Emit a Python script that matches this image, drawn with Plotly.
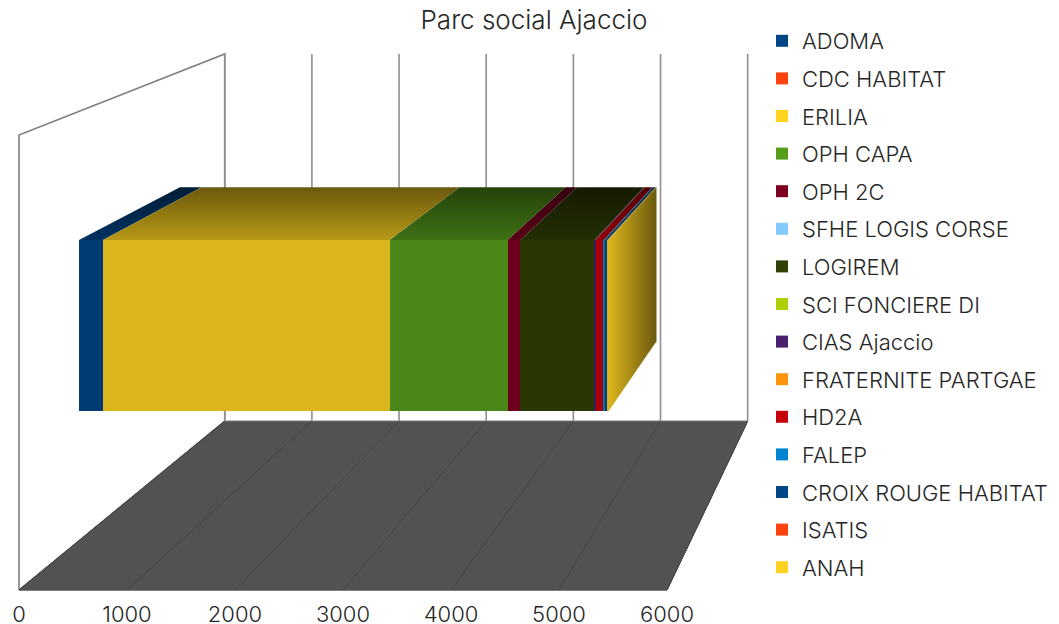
import plotly.graph_objects as go

TITLE = "Parc social Ajaccio"
categories = ["ADOMA", "CDC HABITAT", "ERILIA", "OPH CAPA", "OPH 2C", "SFHE LOGIS CORSE", "LOGIREM",
              "SCI FONCIERE DI", "CIAS Ajaccio", "FRATERNITE PARTGAE", "HD2A", "FALEP",
              "CROIX ROUGE HABITAT", "ISATIS", "ANAH"]
values = [235, 0, 2814, 1157, 125, 0, 728, 0, 10, 0, 81, 10, 25, 0, 12]
colors = ["#004586", "#ff420e", "#ffd320", "#579d1c", "#7e0021", "#83caff", "#314004", "#aecf00",
          "#4b1f6f", "#ff950e", "#c5000b", "#0084d1", "#004586", "#ff420e", "#ffd320"]
tick_values = [0, 1000, 2000, 3000, 4000, 5000, 6000]

W, H = 1059, 624
FONT = "Inter"
TXT = "#262626"
VPX, VPY = 1085.0, -285.0
X0, PX_PER_UNIT, BASE_Y = 19.0, 0.108, 590.0
WALL_H = 455.0
BACK = 0.807            # depth scale of the back wall
BAR_NEAR, BAR_FAR = 0.9437, 0.849
BAR_LOW, BAR_HIGH = 137.5, 318.7


def project(v, h, s):
    return (VPX + (X0 + v * PX_PER_UNIT - VPX) * s,
            VPY + (BASE_Y - h - VPY) * s)


def poly(points):
    pts = [project(*p) for p in points] + [project(*points[0])]
    return [p[0] for p in pts], [p[1] for p in pts]


def shade(hex_color, k):
    r, g, b = (int(hex_color[i:i + 2], 16) for i in (1, 3, 5))
    return f"rgb({r * k:.0f},{g * k:.0f},{b * k:.0f})"


fig = go.Figure()
AX = dict(mode="lines", hoverinfo="skip", showlegend=False)
vmax = tick_values[-1]

# left wall
x, y = poly([(0, 0, 1), (0, WALL_H, 1), (0, WALL_H, BACK), (0, 0, BACK)])
fig.add_trace(go.Scatter(x=x, y=y, line=dict(color="#7f7f7f", width=1.6), **AX))
# floor
x, y = poly([(0, 0, 1), (vmax, 0, 1), (vmax, 0, BACK), (0, 0, BACK)])
fig.add_trace(go.Scatter(x=x, y=y, fill="toself", fillcolor="#525252", line=dict(color="#525252", width=1), **AX))
for t in tick_values:
    x, y = poly([(t, 0, 1), (t, 0, BACK)])
    fig.add_trace(go.Scatter(x=x, y=y, line=dict(color="#484848", width=1), **AX))
    x, y = poly([(t, 0, BACK), (t, WALL_H, BACK)])
    fig.add_trace(go.Scatter(x=x, y=y, line=dict(color="#8f8f8f", width=1.6), **AX))

# top faces and end face of the stack
start = 0
for v, c in zip(values, colors):
    if v > 0:
        x, y = poly([(start, BAR_HIGH, BAR_NEAR), (start + v, BAR_HIGH, BAR_NEAR),
                     (start + v, BAR_HIGH, BAR_FAR), (start, BAR_HIGH, BAR_FAR)])
        fig.add_trace(go.Scatter(x=x, y=y, fill="toself", line=dict(width=0),
                                 fillgradient=dict(type="vertical",
                                                   colorscale=[[0, shade(c, 0.72)], [1, shade(c, 0.42)]]),
                                 **AX))
    start += v
x, y = poly([(start, BAR_LOW, BAR_NEAR), (start, BAR_HIGH, BAR_NEAR),
             (start, BAR_HIGH, BAR_FAR), (start, BAR_LOW, BAR_FAR)])
fig.add_trace(go.Scatter(x=x, y=y, fill="toself", line=dict(width=0),
                         fillgradient=dict(type="horizontal",
                                           colorscale=[[0, shade(colors[-1], 0.86)], [1, shade(colors[-1], 0.42)]]),
                         **AX))

# axis carrying the value labels
fig.add_trace(go.Scatter(x=[0, vmax], y=[1, 1], xaxis="x2", yaxis="y2", line=dict(color="#525252", width=1), **AX))

# front faces
for name, v, c in zip(categories, values, colors):
    fig.add_trace(go.Bar(y=[TITLE], x=[v], orientation="h", xaxis="x3", yaxis="y3",
                         marker=dict(color=shade(c, 0.86), line=dict(width=0)),
                         showlegend=False, name=name))
# legend swatches
for name, c in zip(categories, colors):
    fig.add_trace(go.Bar(y=[TITLE], x=[0], orientation="h", xaxis="x3", yaxis="y3",
                         marker=dict(color=c, line=dict(width=0)), name=name, legendgroup=name))

near0 = project(0, 0, BAR_NEAR)[0]
near1 = project(vmax, 0, BAR_NEAR)[0]
y_hi = project(0, BAR_HIGH, BAR_NEAR)[1]
y_lo = project(0, BAR_LOW, BAR_NEAR)[1]
hidden = dict(visible=False, showgrid=False, zeroline=False, fixedrange=True)

fig.update_layout(
    width=W, height=H, margin=dict(l=0, r=0, t=0, b=0, autoexpand=False),
    paper_bgcolor="white", plot_bgcolor="rgba(0,0,0,0)",
    barmode="stack", bargap=0,
    font=dict(family=FONT, color=TXT, size=22, weight=300),
    title=dict(text=TITLE, x=534 / W, xanchor="center", y=1 - 20 / H, yanchor="middle",
               font=dict(family=FONT, size=26, color=TXT, weight=300)),
    xaxis=dict(range=[0, W], domain=[0, 1], **hidden),
    yaxis=dict(range=[H, 0], domain=[0, 1], **hidden),
    xaxis2=dict(range=[0, vmax], domain=[X0 / W, project(vmax, 0, 1)[0] / W], anchor="y2",
                tickvals=tick_values, ticks="", showgrid=False, zeroline=False, showline=False,
                tickfont=dict(family=FONT, size=22, color=TXT, weight=300), fixedrange=True),
    yaxis2=dict(range=[0, 1], domain=[1 - 599 / H, 1 - 590 / H], anchor="x2", **hidden),
    xaxis3=dict(range=[0, vmax], domain=[near0 / W, near1 / W], anchor="y3", **hidden),
    yaxis3=dict(type="category", range=[-0.5, 0.5], domain=[1 - y_lo / H, 1 - y_hi / H], anchor="x3", **hidden),
    legend=dict(x=762 / W, xanchor="left", y=1 - 20 / H, yanchor="top", tracegroupgap=6,
                font=dict(family=FONT, size=22, color=TXT, weight=300), bgcolor="rgba(0,0,0,0)",
                itemclick=False, itemdoubleclick=False),
)

fig.write_html("out.html", post_script="document.body.style.margin='0';", config={"displayModeBar": False})
